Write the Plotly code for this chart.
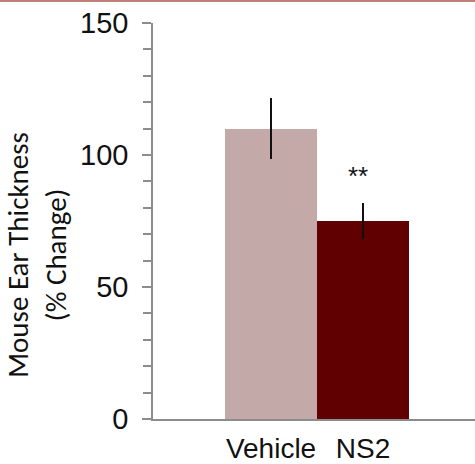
import plotly.graph_objects as go

categories = ["Vehicle", "NS2"]
values = [110, 75]
errors = [11.5, 7]
bar_colors = ["#c3a9a8", "#600000"]
y_ticks = [0, 50, 100, 150]
significance = "**"

x_pos = list(range(len(categories)))

fig = go.Figure()
fig.add_trace(go.Bar(
    x=x_pos, y=values, width=1,
    marker=dict(color=bar_colors, line=dict(width=0)),
    error_y=dict(type="data", array=errors, visible=True, color="#111111",
                 thickness=2, width=0),
    showlegend=False,
))

fig.add_annotation(x=x_pos[1] - 0.05, y=values[1] + 17, text=significance,
                   showarrow=False, font=dict(family="Liberation Sans", size=26, color="#111"),
                   xanchor="center", yanchor="middle")

fig.add_annotation(xref="paper", yref="paper", x=(37 - 153) / 322, y=(422 - 256.5) / 399,
                   text="Mouse Ear Thickness<br>(% Change)", textangle=-90,
                   showarrow=False, font=dict(family="Carlito, Lato", size=29, color="#111"),
                   xanchor="center", yanchor="middle")

# red rule at top of page
fig.add_shape(type="line", xref="paper", yref="paper",
              x0=-153 / 322, x1=1, y0=(422 - 0.8) / 399, y1=(422 - 0.8) / 399,
              line=dict(color="#bf8077", width=2))

fig.update_layout(
    width=475, height=464,
    margin=dict(l=153, r=0, t=23, b=42),
    paper_bgcolor="white", plot_bgcolor="white",
    font=dict(family="Liberation Sans", size=28, color="#111"),
    xaxis=dict(range=[-1.283, 2.217], tickvals=x_pos, ticktext=categories,
               showline=True, linecolor="#8c8c8c", linewidth=1.5, ticks="",
               showgrid=False, zeroline=False, ticklabelstandoff=4,
               tickfont=dict(size=28)),
    yaxis=dict(range=[0, 150], tickvals=y_ticks, showline=True, linecolor="#8c8c8c",
               linewidth=1.5, ticks="outside", ticklen=9, tickcolor="#8c8c8c", tickwidth=1.5,
               showgrid=False, zeroline=False, ticklabelstandoff=8,
               tickfont=dict(size=29),
               minor=dict(dtick=10, ticks="outside", ticklen=8, tickcolor="#8c8c8c",
                          tickwidth=1.5, showgrid=False)),
    bargap=0,
)

fig.write_html("out.html", config={"displayModeBar": False},
               post_script="document.body.style.margin='0';document.body.style.overflow='hidden';")
